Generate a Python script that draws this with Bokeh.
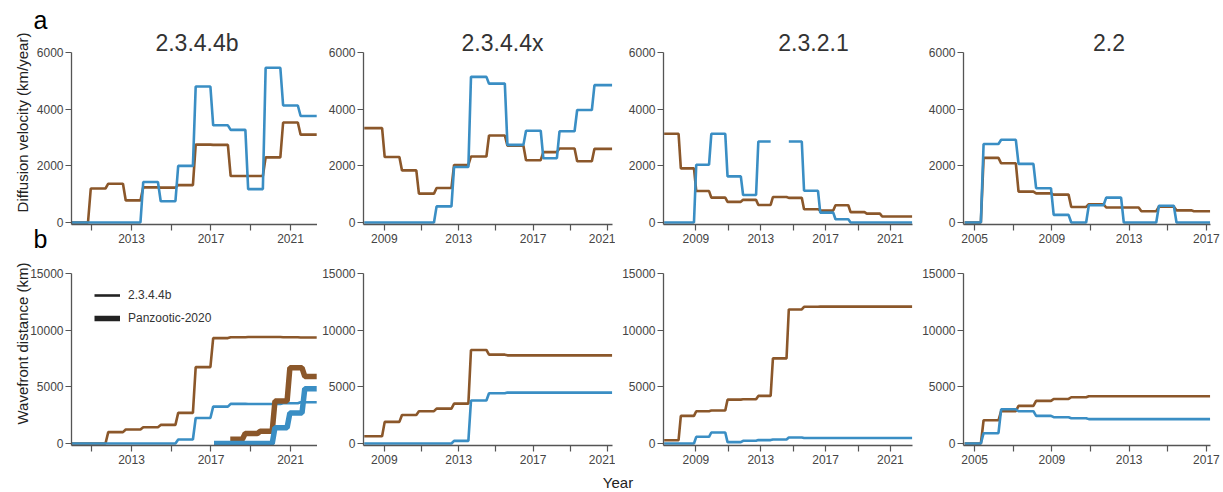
import math
from bokeh.plotting import figure
from bokeh.layouts import column, row
from bokeh.models import Range1d, FixedTicker, Label, Legend, LegendItem, GridBox
from bokeh.embed import file_html
from bokeh.resources import INLINE

NaN = float("nan")

# ---------------- data ----------------
TITLES = ["2.3.4.4b", "2.3.4.4x", "2.3.2.1", "2.2"]

# panel 1 : 2.3.4.4b
EDGES_1 = [2010.0, 2010.88, 2011.76, 2012.64, 2013.52, 2014.40, 2015.28, 2016.16,
           2017.04, 2017.92, 2018.80, 2019.68, 2020.56, 2021.44, 2022.32]
VEL_BROWN_1 = [0, 1200, 1370, 780, 1240, 1230, 1320, 2750, 2740, 1640, 1640, 2300, 3530, 3100]
VEL_BLUE_1 = [0, 0, 0, 0, 1430, 750, 2000, 4800, 3430, 3270, 1180, 5460, 4130, 3760]
DIST_BROWN_1 = [0, 0, 1000, 1230, 1440, 1640, 2700, 6740, 9300, 9380, 9400, 9400, 9380, 9350]
DIST_BLUE_1 = [0, 0, 0, 0, 0, 0, 350, 2250, 3250, 3500, 3480, 3480, 3550, 3640]
# Panzootic-2020 (thick)
EDGES_PZ = [2017.15, 2017.90, 2018.65, 2019.40, 2020.15, 2020.90, 2021.65, 2022.32]
PZ_BROWN = [NaN, 380, 880, 1080, 3750, 6680, 5920]
PZ_BLUE = [0, 0, 0, 0, 1400, 2690, 4840]

# panel 2 : 2.3.4.4x
EDGES_2 = [2007.92, 2008.95, 2009.88, 2010.79, 2011.74, 2012.68, 2013.59, 2014.56,
           2015.55, 2016.55, 2017.48, 2018.35, 2019.30, 2020.23, 2021.25]
VEL_BROWN_2 = [3330, 2310, 1840, 1020, 1220, 2030, 2330, 3070, 2710, 2200, 2485, 2610, 2160, 2600]
VEL_BLUE_2 = [0, 0, 0, 0, 570, 1960, 5140, 4900, 2740, 3240, 2270, 3220, 3970, 4850]
DIST_BROWN_2 = [645, 1910, 2520, 2850, 3080, 3520, 8250, 7840, 7780, 7780, 7780, 7780, 7780, 7780]
DIST_BLUE_2 = [0, 0, 0, 0, 0, 235, 3790, 4430, 4490, 4490, 4490, 4490, 4490, 4490]

# panel 3 : 2.3.2.1
EDGES_3 = [2007.04, 2008.00, 2008.95, 2009.88, 2010.88, 2011.84, 2012.78, 2013.68, 2014.66,
           2015.60, 2016.60, 2017.54, 2018.47, 2019.47, 2020.42, 2021.38, 2022.34]
VEL_BROWN_3 = [3130, 1910, 1110, 880, 730, 800, 620, 900, 870, 470, 420, 610, 365, 315, 210, 210]
VEL_BLUE_3 = [0, 0, 2040, 3130, 1630, 970, 2860, NaN, 2860, 1120, 350, 115, 0, 0, 0, 0]
DIST_BROWN_3 = [293, 2440, 2850, 2910, 3870, 3900, 4200, 7510, 11830, 12060, 12080, 12080,
                12080, 12080, 12080, 12080]
DIST_BLUE_3 = [0, 0, 590, 970, 120, 240, 300, 350, 530, 480, 480, 480, 480, 480, 480, 480]

# panel 4 : 2.2
EDGES_4 = [2004.48, 2005.39, 2006.30, 2007.20, 2008.11, 2009.02, 2009.93, 2010.84, 2011.74,
           2012.65, 2013.56, 2014.47, 2015.38, 2016.28, 2017.19]
VEL_BROWN_4 = [0, 2280, 2090, 1090, 1030, 985, 550, 645, 530, 530, 400, 560, 430, 400]
VEL_BLUE_4 = [0, 2770, 2920, 2070, 1210, 270, 0, 610, 880, 0, 0, 590, 0, 0]
DIST_BROWN_4 = [0, 2050, 2850, 3320, 3760, 3930, 4080, 4170, 4170, 4170, 4170, 4170, 4170, 4170]
DIST_BLUE_4 = [0, 910, 3020, 2850, 2440, 2320, 2230, 2150, 2150, 2150, 2150, 2150, 2150, 2150]

X_RANGES = [(2009.98, 2022.36), (2007.88, 2021.27), (2007.00, 2022.36), (2004.42, 2017.21)]
X_MAJOR = [[2013, 2017, 2021], [2009, 2013, 2017, 2021], [2009, 2013, 2017, 2021], [2005, 2009, 2013, 2017]]
X_MINOR = [[2011, 2015, 2019], [2011, 2015, 2019], [2011, 2015, 2019], [2007, 2011, 2015]]
Y_TICKS_VEL = [0, 2000, 4000, 6000]
Y_TICKS_DIST = [0, 5000, 10000, 15000]

BROWN = "#8b572a"
BLUE = "#3a8ec4"
FONT = "Liberation Sans"

# ---------------- layout ----------------
FH = 172
PAGE_W, PAGE_H = 1223, 490
COLS = [  # (border_left, frame_width, border_right)
    (71, 246, 0),
    (46, 249, 3),
    (48, 249, 3),
    (48, 247, 13),
]
TITLE_X = [196.5, 502, 813, 1108.5]


def step_xy(edges, vals, d=0.14):
    xs, ys = [], []
    n = len(vals)
    for i, v in enumerate(vals):
        x0 = edges[i] + (d / 2 if i > 0 else 0)
        x1 = edges[i + 1] - (d / 2 if i < n - 1 else 0)
        xs += [x0, x1]
        ys += [v, v]
    return xs, ys


def make_fig(ci, top_row):
    bl, fw, br = COLS[ci]
    yr = Range1d(-70, 6000) if top_row else Range1d(-176, 15000)
    p = figure(frame_width=fw, frame_height=FH,
               x_range=Range1d(*X_RANGES[ci]), y_range=yr,
               min_border_left=bl, min_border_right=br,
               min_border_top=52 if top_row else 25, min_border_bottom=24 if top_row else 45,
               toolbar_location=None, output_backend="svg")
    p.outline_line_color = None
    p.grid.visible = False
    p.xaxis.ticker = FixedTicker(ticks=X_MAJOR[ci], minor_ticks=X_MINOR[ci])
    p.yaxis.ticker = FixedTicker(ticks=Y_TICKS_VEL if top_row else Y_TICKS_DIST)
    for ax in (p.xaxis, p.yaxis):
        ax.axis_line_color = "#555555"
        ax.axis_line_width = 1.3
        ax.major_tick_line_color = "#555555"
        ax.major_tick_line_width = 1.2
        ax.minor_tick_line_color = "#555555"
        ax.minor_tick_line_width = 1.2
        ax.major_tick_in = 0
        ax.major_tick_out = 6
        ax.minor_tick_in = 0
        ax.minor_tick_out = 6
        ax.major_label_text_font = FONT
        ax.major_label_text_font_size = "12px"
        ax.major_label_text_color = "#444444"
    p.xaxis.major_label_standoff = 3
    p.yaxis.major_label_standoff = 2
    p.yaxis.minor_tick_line_color = None
    return p


EDGES = [EDGES_1, EDGES_2, EDGES_3, EDGES_4]
VEL = [(VEL_BROWN_1, VEL_BLUE_1), (VEL_BROWN_2, VEL_BLUE_2), (VEL_BROWN_3, VEL_BLUE_3), (VEL_BROWN_4, VEL_BLUE_4)]
DIST = [(DIST_BROWN_1, DIST_BLUE_1), (DIST_BROWN_2, DIST_BLUE_2), (DIST_BROWN_3, DIST_BLUE_3), (DIST_BROWN_4, DIST_BLUE_4)]

top_figs, bot_figs = [], []
for ci in range(4):
    pt = make_fig(ci, True)
    for vals, col in zip(VEL[ci], (BROWN, BLUE)):
        xs, ys = step_xy(EDGES[ci], vals)
        pt.line(xs, ys, line_color=col, line_width=2.6)
    top_figs.append(pt)

    pb = make_fig(ci, False)
    for vals, col in zip(DIST[ci], (BROWN, BLUE)):
        xs, ys = step_xy(EDGES[ci], vals)
        pb.line(xs, ys, line_color=col, line_width=2.6)
    if ci == 0:
        for vals, col in zip((PZ_BROWN, PZ_BLUE), (BROWN, BLUE)):
            xs, ys = step_xy(EDGES_PZ, vals)
            pb.line(xs, ys, line_color=col, line_width=5.5)
        r1 = pb.line([NaN], [NaN], line_color="#222222", line_width=2.6)
        r2 = pb.line([NaN], [NaN], line_color="#222222", line_width=5.5)
        leg = Legend(items=[LegendItem(label="2.3.4.4b", renderers=[r1]),
                            LegendItem(label="Panzootic-2020", renderers=[r2])],
                     location=(23, 117), padding=0, margin=0, spacing=3,
                     glyph_width=26, glyph_height=20, label_height=20, label_standoff=8,
                     label_text_font=FONT, label_text_font_size="12px", label_text_color="#333333",
                     border_line_color=None, background_fill_alpha=0)
        pb.add_layout(leg)
    bot_figs.append(pb)

main = column(row(*top_figs), row(*bot_figs))

# transparent overlay carrying the free texts, in page pixel coordinates
ov = figure(title=None, width=PAGE_W, height=PAGE_H, x_range=Range1d(0, PAGE_W), y_range=Range1d(PAGE_H, 0),
            min_border_left=0, min_border_right=0, min_border_top=0, min_border_bottom=0,
            x_axis_location=None, y_axis_location=None, toolbar_location=None, output_backend="svg")
ov.outline_line_color = None
ov.grid.visible = False
ov.background_fill_color = None
ov.border_fill_color = None


def add_text(x, y, text, size, color="#333333", align="left", angle=0.0):
    ov.add_layout(Label(x=x, y=y, text=text, text_font=FONT, text_font_size=size,
                        text_color=color, text_align=align, text_baseline="alphabetic",
                        angle=angle))


add_text(33, 19, "a", "25px", "#000000")
add_text(33, 238, "b", "25px", "#000000")
for tx, tt in zip(TITLE_X, TITLES):
    add_text(tx, 42, tt, "23px", "#333333", "center")
add_text(21.5, 122, "Diffusion velocity (km/year)", "15px", "#222222", "center", math.pi / 2)
add_text(21.5, 343, "Wavefront distance (km)", "15px", "#222222", "center", math.pi / 2)
add_text(617.5, 482, "Year", "15px", "#222222", "center")

layout = GridBox(children=[(main, 0, 0), (ov, 0, 0)])
open("out.html", "w").write(file_html(layout, INLINE))
